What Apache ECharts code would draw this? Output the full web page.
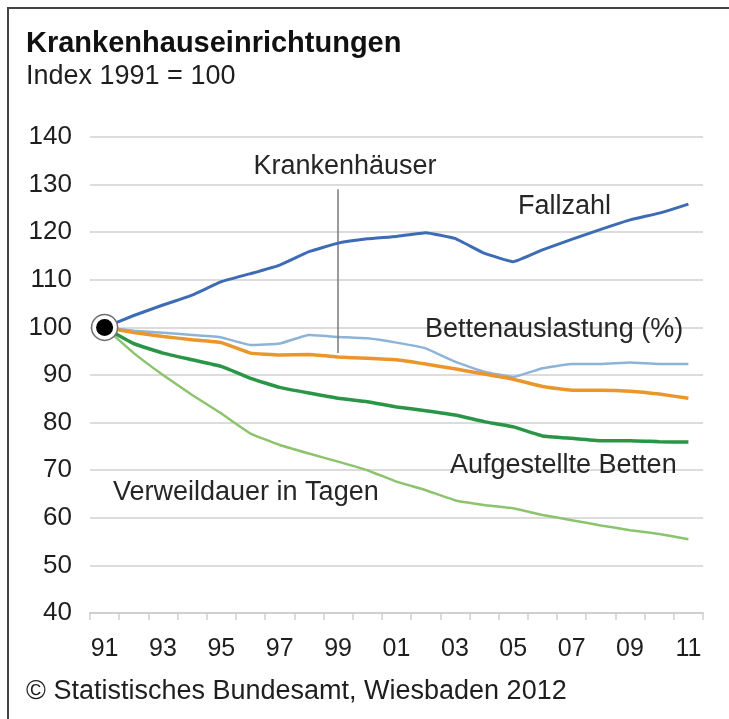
<!DOCTYPE html>
<html>
<head>
<meta charset="utf-8">
<script src="https://cdn.jsdelivr.net/npm/echarts@6/dist/echarts.min.js"></script>
<style>
  html, body { margin: 0; padding: 0; background: #fff; }
  #chart { width: 729px; height: 719px; }
</style>
</head>
<body>
<div id="chart"></div>
<script>
// Jahre 1991-2011, Index 1991 = 100
const years = ['91','92','93','94','95','96','97','98','99','00','01','02','03','04','05','06','07','08','09','10','11'];
const yTicks = [40, 140, 10]; // min, max, interval

const fallzahl         = [100,102.5,104.7,106.8,109.6,111.3,113.1,115.9,117.7,118.6,119.1,119.9,118.7,115.6,113.8,116.3,118.5,120.6,122.6,124.0,125.9];
const bettenauslastung = [100,99.3,98.9,98.4,97.9,96.3,96.6,98.4,98.0,97.7,96.8,95.6,92.8,90.7,89.6,91.4,92.3,92.3,92.6,92.3,92.3];
const krankenhaeuser   = [100,98.9,98.1,97.4,96.8,94.6,94.2,94.3,93.8,93.5,93.2,92.3,91.3,90.2,89.1,87.6,86.8,86.8,86.6,86.0,85.1];
const aufgestellteBetten = [100,96.6,94.6,93.2,91.8,89.3,87.4,86.2,85.1,84.4,83.3,82.5,81.6,80.2,79.1,77.2,76.7,76.2,76.2,76.0,75.9];
const verweildauer     = [100,94.6,90.0,85.8,81.9,77.7,75.3,73.5,71.8,70.0,67.6,65.8,63.7,62.7,62.0,60.6,59.5,58.4,57.4,56.6,55.5];

// Hinweislinie "Krankenhäuser" (Jahr, von, bis)
const markerKH = ['99', 129, 94.6];

const FONT = "'Liberation Sans', Arial, sans-serif";
const chart = echarts.init(document.getElementById('chart'));

function lineSeries(name, data, color, width, z) {
  return {
    name: name,
    type: 'line',
    data: data,
    symbol: 'none',
    smooth: 0.1,
    z: z,
    lineStyle: { color: color, width: width }
  };
}

function label(text, x, y, align) {
  return {
    type: 'text',
    x: x,
    y: y,
    z: 100,
    style: {
      text: text,
      fill: '#262626',
      font: '27px ' + FONT,
      textAlign: align || 'left',
      textVerticalAlign: 'middle'
    }
  };
}

const option = {
  animation: false,
  backgroundColor: '#fff',
  grid: { left: 90, right: 26, top: 137, bottom: 106 },
  xAxis: {
    type: 'category',
    data: years,
    boundaryGap: true,
    axisLine: { lineStyle: { color: '#cfcfcf', width: 2 } },
    axisTick: { show: true, interval: 0, length: 7, lineStyle: { color: '#cfcfcf', width: 1.5 } },
    axisLabel: { interval: 1, color: '#1e1e1e', fontSize: 25, fontFamily: FONT, margin: 24 },
    splitLine: { show: false }
  },
  yAxis: {
    type: 'value',
    min: yTicks[0],
    max: yTicks[1],
    interval: yTicks[2],
    axisLine: { show: false },
    axisTick: { show: false },
    axisLabel: { color: '#1e1e1e', fontSize: 26, fontFamily: FONT, margin: 18 },
    splitLine: { lineStyle: { color: '#dcdcdc', width: 2 } }
  },
  series: [
    lineSeries('Verweildauer in Tagen', verweildauer, '#8cc46e', 2.5, 2),
    lineSeries('Aufgestellte Betten', aufgestellteBetten, '#2a9447', 3.5, 3),
    lineSeries('Bettenauslastung (%)', bettenauslastung, '#8db4d8', 2.5, 4),
    Object.assign(lineSeries('Krankenhäuser', krankenhaeuser, '#ea962c', 3.5, 5), {
      markLine: {
        silent: true,
        symbol: 'none',
        label: { show: false },
        lineStyle: { color: '#7a7a7a', width: 1.5, type: 'solid' },
        data: [[{ coord: [markerKH[0], markerKH[1]] }, { coord: [markerKH[0], markerKH[2]] }]]
      }
    }),
    lineSeries('Fallzahl', fallzahl, '#3d6bb4', 3, 6),
    {
      type: 'scatter',
      data: [[years[0], 100]],
      symbolSize: 26,
      z: 8,
      itemStyle: { color: '#fff', borderColor: '#6f6f6f', borderWidth: 1.5, opacity: 1 }
    },
    {
      type: 'scatter',
      data: [[years[0], 100]],
      symbolSize: 17,
      z: 9,
      itemStyle: { color: '#000', opacity: 1 }
    }
  ],
  graphic: [
    {
      type: 'polyline',
      z: 100,
      shape: { points: [[8, 719], [8, 8], [729, 8]] },
      style: { stroke: '#444', lineWidth: 2, fill: null }
    },
    {
      type: 'text', x: 26, y: 44, z: 100,
      style: { text: 'Krankenhauseinrichtungen', fill: '#111', font: 'bold 29px ' + FONT, textVerticalAlign: 'middle' }
    },
    {
      type: 'text', x: 26, y: 77, z: 100,
      style: { text: 'Index 1991 = 100', fill: '#1e1e1e', font: '27px ' + FONT, textVerticalAlign: 'middle' }
    },
    {
      type: 'text', x: 26, y: 692, z: 100,
      style: { text: '© Statistisches Bundesamt, Wiesbaden 2012', fill: '#1e1e1e', font: '27px ' + FONT, textVerticalAlign: 'middle' }
    },
    label('Krankenhäuser', 345, 167, 'center'),
    label('Fallzahl', 518, 207),
    label('Bettenauslastung (%)', 425, 330),
    label('Aufgestellte Betten', 450, 466),
    label('Verweildauer in Tagen', 113, 493)
  ]
};

chart.setOption(option);
</script>
</body>
</html>
